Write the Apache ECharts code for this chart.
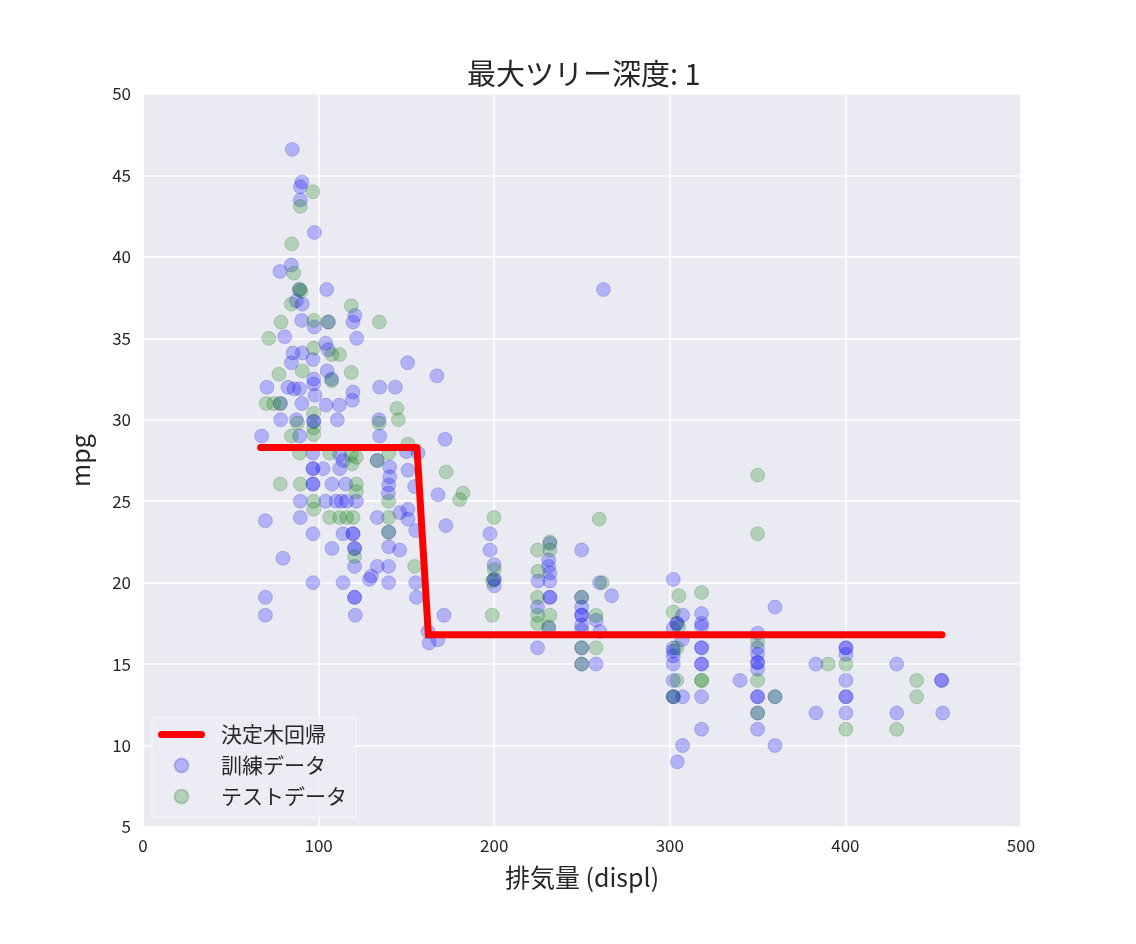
<html>
    <head>
        <meta charset="utf-8">
        <script src="https://cdn.jsdelivr.net/npm/echarts@6/dist/echarts.min.js"></script>
        <style>
            html, body { margin: 0; padding: 0; background: #fff; }
            #main { width: 1136px; height: 944px; }
        </style>
    </head>
    <body>
        <div id="main"></div>
        <script>

        var chartTitle = '最大ツリー深度: 1';
        var xName = '排気量 (displ)';
        var yName = 'mpg';
        var seriesNames = ['決定木回帰', '訓練データ', 'テストデータ'];

        // 決定木の予測 (displ, mpg)
        var treeLine = [[67, 28.3], [156, 28.3], [162.5, 16.8], [455, 16.8]];

        // 訓練データ (displ, mpg)
        var trainData = [
            [85, 46.6], [90.5, 44.6], [89.6, 44.3], [89.6, 43.5], [97.6, 41.5], [84.5, 39.5], [78, 39.1],
            [89, 38], [104.6, 38], [87.3, 37.3], [90.7, 37.1], [120.7, 36.4], [119.6, 36], [90.4, 36.1],
            [97.6, 35.7], [105.5, 36], [80.7, 35.1], [121.7, 35], [85.4, 34.1], [90.7, 34.1], [96.8, 33.7],
            [104, 34.7], [105.5, 34.3], [84.5, 33.5], [150.7, 33.5], [167.4, 32.7], [104.8, 33], [107.4, 32.5],
            [97.2, 32.5], [70.6, 32], [82.6, 32], [86, 31.9], [89.2, 31.9], [97.2, 32.2], [98, 31.5],
            [134.8, 32], [143.7, 32], [119.6, 31.7], [119.2, 31.2], [78.2, 31], [90.5, 31], [104.2, 30.9],
            [111.8, 30.9], [78.4, 30], [87.3, 30], [97.2, 29.9], [97.2, 29.9], [110.7, 30], [134.4, 30],
            [67.6, 29], [89.2, 29], [134.8, 29], [172, 28.8],
            [96.8, 27.95], [112, 27.85], [150, 28.05], [156.6, 27.95], [114, 27.5],
            [96.8, 27], [96.8, 27], [96.8, 26.05], [96.8, 26.05], [107.6, 26.05], [115.4, 26.05], [112, 27],
            [102.5, 27], [133.4, 27.5], [140.5, 27.1], [140.5, 26.5], [150.9, 26.9], [154.7, 25.9], [168, 25.4],
            [89.6, 25], [104, 25], [110, 25], [113, 25], [116, 25], [121.5, 25], [139.9, 26], [139.7, 25.5],
            [69.7, 23.8], [89.6, 24], [133.4, 24], [146.2, 24.3], [150.9, 24.5], [150.9, 23.9],
            [96.8, 23], [113.9, 23], [119.6, 23], [119.6, 23], [139.9, 23.1], [155.3, 23.2],
            [107.6, 22.1], [120.5, 22.1], [120.5, 22.1], [139.9, 22.2], [146.2, 22], [79.7, 21.5],
            [120.5, 21], [133.4, 21], [139.9, 21], [130, 20.4], [129, 20.2], [96.8, 20], [113.9, 20],
            [139.9, 20], [155.3, 20], [69.7, 19.1], [120.5, 19.1], [120.5, 19.1], [155.7, 19.1],
            [69.7, 18], [120.9, 18], [162.3, 17], [162.9, 16.3], [168, 16.5],
            [172.5, 23.5], [197.6, 23], [197.6, 22], [200, 21.1], [200, 20.2], [200, 20.2], [200, 19.8],
            [171.4, 18], [231.7, 22.4], [231, 21.4], [231, 21], [231.7, 20.6], [231.7, 20.1], [225, 20.1],
            [231.7, 19.1], [231.7, 19.1], [224.7, 18.5], [231, 17.2], [224.7, 16], [249.8, 22], [260, 20],
            [266.9, 19.2], [249.8, 19.1], [249.8, 18.5], [249.8, 18], [249.8, 18], [249.8, 17.4], [249.8, 17.1],
            [258, 17.7], [260.2, 17], [249.8, 16], [249.8, 15], [258, 15], [262.2, 38],
            [302, 20.2], [359.9, 18.5], [350, 16.9], [350, 16], [350, 15.6], [350, 15.1], [350, 15.1],
            [350, 14.7], [350, 13], [350, 13], [359.9, 13], [350, 12], [350, 11], [359.9, 10], [340, 14],
            [383.2, 15], [400.3, 16], [400.3, 16], [400.3, 15.6], [400.3, 14], [400.3, 13], [400.3, 13],
            [400.3, 12], [383.2, 12], [429.2, 15], [454.8, 14], [454.8, 14], [455.4, 12], [429.2, 12],
            [302, 16], [302, 15.5], [302, 15], [302, 14], [302, 13], [302, 13], [307.3, 13], [307.3, 10],
            [304.3, 9], [318.1, 18.1], [318.1, 17.5], [318.1, 17.3], [318.1, 16], [318.1, 16], [318.1, 15],
            [318.1, 15], [318.1, 13], [318.1, 11], [307.3, 18], [304, 17.5], [304, 17.5], [302, 17.2],
            [307, 16.5], [302, 15.8]
        ];

        // テストデータ (displ, mpg)
        var testData = [
            [96.8, 44], [89.6, 43.1], [84.7, 40.8], [85.8, 39], [89.2, 38], [90, 37.9], [84.5, 37.1],
            [118.6, 37], [78.6, 36], [97.4, 36.1], [105.5, 36], [134.6, 36], [71.6, 35], [97.2, 34.4],
            [107.6, 34], [112, 34], [77.4, 32.8], [90.7, 33], [107.4, 32.4], [118.6, 32.9], [70.2, 31],
            [74.4, 31], [78.2, 31], [144.6, 30.7], [88, 29.8], [97.2, 30.4], [97.2, 29.5], [97.2, 29.1],
            [134.4, 29.8], [145.4, 30], [84.5, 29], [150.9, 28.5],
            [78.2, 26.05], [89.6, 26.05], [121.5, 26.05], [121.5, 25.6], [119, 27.3], [133.4, 27.5],
            [97.2, 25], [97.2, 24.5], [106.3, 24], [112, 24], [116, 24], [119.6, 24], [139.9, 24],
            [139.9, 25], [154.7, 21], [120.5, 21.6], [139.9, 23.1], [89.2, 27.95], [106.3, 27.95],
            [118.6, 27.85], [140, 27.95], [121.5, 27.7],
            [182.2, 25.5], [180.3, 25.1], [172.6, 26.8], [199.9, 24], [200, 20.8], [199, 20.1], [198.9, 18],
            [224.7, 22], [231.7, 22.5], [231.7, 22], [225, 20.7], [224.7, 19.1], [224.7, 18], [231.7, 18],
            [224.7, 17.5], [231, 17.3], [259.8, 23.9], [261.5, 20], [258, 18], [258, 16], [249.8, 16],
            [249.8, 15], [249.8, 19.1],
            [350, 26.6], [350, 23], [305.2, 19.2], [318.1, 19.4], [350, 16.4], [350, 14], [350, 12],
            [359.9, 13], [390.2, 15], [400.3, 15], [400.3, 11], [440.6, 14], [440.6, 13], [429.2, 11],
            [302, 18.2], [304, 16], [304, 14], [302, 13], [318.1, 14], [318.1, 14], [305, 17.3]
        ];

        var fontFamily = '"Noto Sans CJK JP", "Noto Sans", sans-serif';
        var lineIcon = 'path://M7,0 L87,0 A7,7 0 0 1 87,14 L7,14 A7,7 0 0 1 7,0 Z';

        var myChart = echarts.init(document.getElementById('main'));

        var axisCommon = {
            axisLine: { show: false },
            axisTick: { show: false },
            splitLine: {
                lineStyle: { color: '#ffffff', width: 1.5 }
            },
            axisLabel: {
                color: '#262626',
                fontSize: 17,
                fontFamily: fontFamily
            },
            nameLocation: 'middle',
            nameTextStyle: {
                color: '#262626',
                fontSize: 25,
                fontFamily: fontFamily
            }
        };

        var option = {
            animation: false,
            backgroundColor: '#ffffff',
            textStyle: { fontFamily: fontFamily },
            title: {
                text: chartTitle,
                left: 462,
                top: 54,
                textStyle: {
                    color: '#262626',
                    fontSize: 29,
                    fontWeight: 'normal',
                    fontFamily: fontFamily
                }
            },
            grid: {
                show: true,
                backgroundColor: '#eaeaf2',
                borderWidth: 0,
                left: 143,
                right: 115,
                top: 94,
                bottom: 117
            },
            legend: {
                orient: 'vertical',
                left: 152,
                top: 717,
                padding: [7, 9, 10, 6],
                itemWidth: 47,
                itemHeight: 14,
                itemGap: 10,
                backgroundColor: 'rgba(236,236,244,0.85)',
                borderColor: '#f6f6fa',
                borderWidth: 1,
                textStyle: {
                    color: '#262626',
                    fontSize: 21,
                    fontFamily: fontFamily,
                    padding: [0, 0, 0, 11]
                },
                data: [
                    { name: seriesNames[0], icon: lineIcon },
                    { name: seriesNames[1], icon: 'circle' },
                    { name: seriesNames[2], icon: 'circle' }
                ]
            },
            xAxis: echarts.util.merge({
                type: 'value',
                name: xName,
                nameGap: 38,
                min: 0,
                max: 500,
                interval: 100,
                axisLabel: { margin: 10 }
            }, axisCommon),
            yAxis: echarts.util.merge({
                type: 'value',
                name: yName,
                nameGap: 50,
                min: 5,
                max: 50,
                interval: 5,
                axisLabel: { margin: 12 }
            }, axisCommon),
            series: [
                {
                    name: seriesNames[1],
                    type: 'scatter',
                    data: trainData,
                    symbolSize: 14,
                    itemStyle: {
                        color: 'rgba(0,0,255,0.3)',
                        borderColor: 'rgba(0,0,150,0.22)',
                        borderWidth: 1
                    },
                    z: 2
                },
                {
                    name: seriesNames[2],
                    type: 'scatter',
                    data: testData,
                    symbolSize: 14,
                    itemStyle: {
                        color: 'rgba(0,128,0,0.3)',
                        borderColor: 'rgba(0,80,0,0.22)',
                        borderWidth: 1
                    },
                    z: 3
                },
                {
                    name: seriesNames[0],
                    type: 'line',
                    data: treeLine,
                    symbol: 'none',
                    lineStyle: {
                        color: '#ff0000',
                        width: 7,
                        cap: 'round',
                        join: 'round'
                    },
                    itemStyle: { color: '#ff0000' },
                    z: 5
                }
            ]
        };

        myChart.setOption(option);

        </script>
    </body>
</html>
